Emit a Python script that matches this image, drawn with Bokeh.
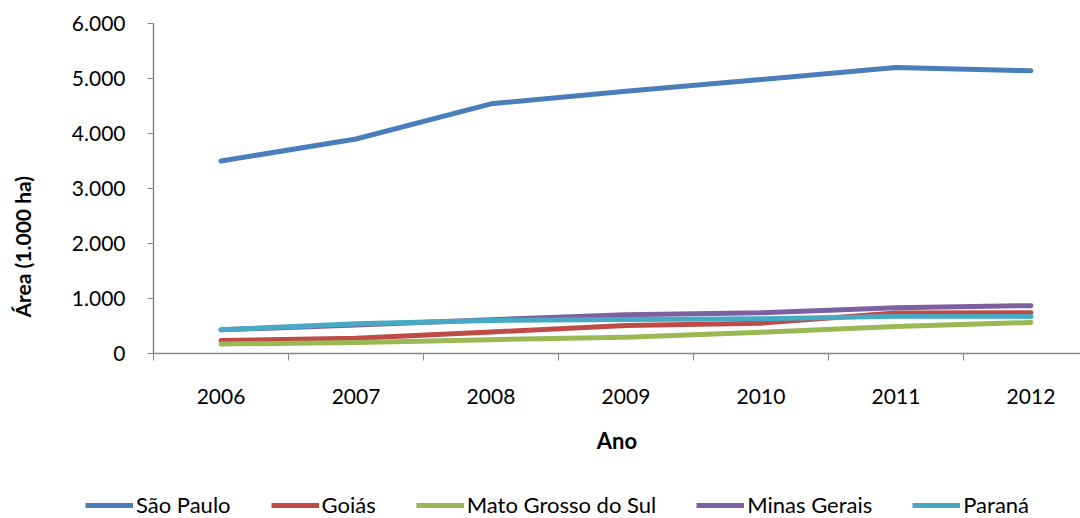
from bokeh.plotting import figure
from bokeh.layouts import column
from bokeh.models import FixedTicker, Legend, LegendItem, Range1d, Title
from bokeh.embed import file_html
from bokeh.resources import INLINE

years = [2006, 2007, 2008, 2009, 2010, 2011, 2012]
sao_paulo = [3500, 3900, 4540, 4770, 4980, 5200, 5140]
goias = [235, 278, 390, 510, 552, 735, 742]
mato_grosso_do_sul = [172, 202, 252, 294, 387, 491, 564]
minas_gerais = [430, 520, 615, 705, 742, 834, 870]
parana = [430, 540, 601, 620, 632, 675, 675]

series_names = ["São Paulo", "Goiás", "Mato Grosso do Sul", "Minas Gerais", "Paraná"]
series_values = [sao_paulo, goias, mato_grosso_do_sul, minas_gerais, parana]
series_colors = ["#4A7EBB", "#BE4B48", "#98B954", "#7D60A0", "#46AAC5"]

y_ticks = [0, 1000, 2000, 3000, 4000, 5000, 6000]
y_tick_labels = ["0", "1.000", "2.000", "3.000", "4.000", "5.000", "6.000"]
x_title = "Ano"
y_title = "Área (1.000 ha)"

FONT = "Lato"
AXIS_COLOR = "#888888"

p = figure(width=1080, height=470, output_backend="svg", toolbar_location=None,
           x_range=Range1d(2005.5, 2012.367), y_range=Range1d(0, 6000),
           min_border_left=153, min_border_right=0, min_border_top=23, min_border_bottom=117)
p.outline_line_color = None
p.xgrid.grid_line_color = None
p.ygrid.grid_line_color = None
p.background_fill_color = "white"
p.border_fill_color = "white"
p.frame_align = False

for vals, col in zip(series_values, series_colors):
    p.line(years, vals, line_color=col, line_width=5, line_cap="round", line_join="round")

# x axis
xa = p.xaxis[0]
xa.ticker = FixedTicker(ticks=years, minor_ticks=[y - 0.5 for y in years] + [years[-1] + 0.5])
xa.major_tick_out = 0
xa.major_tick_in = 0
xa.minor_tick_out = 7
xa.minor_tick_in = 0
xa.minor_tick_line_color = AXIS_COLOR
xa.axis_line_color = AXIS_COLOR
xa.axis_line_width = 1.5
xa.major_label_standoff = 28
xa.major_label_text_font = FONT
xa.major_label_text_font_size = "21px"
xa.major_label_text_color = "black"
xa.axis_label = x_title
xa.axis_label_text_font = FONT
xa.axis_label_text_font_style = "bold"
xa.axis_label_text_font_size = "22px"
xa.axis_label_text_color = "black"
xa.axis_label_standoff = 20

# y axis
ya = p.yaxis[0]
ya.ticker = FixedTicker(ticks=y_ticks, minor_ticks=[])
ya.major_label_overrides = {t: l for t, l in zip(y_ticks, y_tick_labels)}
ya.major_tick_out = 6
ya.major_tick_in = 0
ya.minor_tick_out = 0
ya.minor_tick_in = 0
ya.major_tick_line_color = AXIS_COLOR
ya.axis_line_color = AXIS_COLOR
ya.axis_line_width = 1.5
ya.major_label_standoff = 22
ya.major_label_text_font = FONT
ya.major_label_text_font_size = "21px"
ya.major_label_text_color = "black"

# spacer, then the y axis title placed lower than the frame centre as in the reference
p.add_layout(Title(text=" ", text_font_size="24px", standoff=0), "left")
p.add_layout(Title(text=y_title, align="left", offset=36,
                   text_font=FONT, text_font_style="bold", text_font_size="21px",
                   text_color="black"), "left")

# legend strip below the chart
pl = figure(width=1080, height=48, output_backend="svg", toolbar_location=None,
            x_range=Range1d(0, 1), y_range=Range1d(0, 1),
            x_axis_type=None, y_axis_type=None,
            min_border_left=0, min_border_right=0, min_border_top=0, min_border_bottom=0)
pl.frame_align = False
pl.outline_line_color = None
pl.xgrid.grid_line_color = None
pl.ygrid.grid_line_color = None
items = []
for name, col in zip(series_names, series_colors):
    r = pl.line([-5, -4], [-5, -4], line_color=col, line_width=5)
    items.append(LegendItem(label=name, renderers=[r]))
legend = Legend(items=items, orientation="horizontal", location=(85, 0),
                glyph_width=48, glyph_height=20, label_standoff=3, spacing=40,
                padding=0, margin=0, border_line_color=None, background_fill_alpha=0,
                label_text_font=FONT, label_text_font_size="22px", label_text_color="black")
pl.add_layout(legend, "center")

layout = column(p, pl, spacing=0)
open("out.html", "w").write(file_html(layout, INLINE))
